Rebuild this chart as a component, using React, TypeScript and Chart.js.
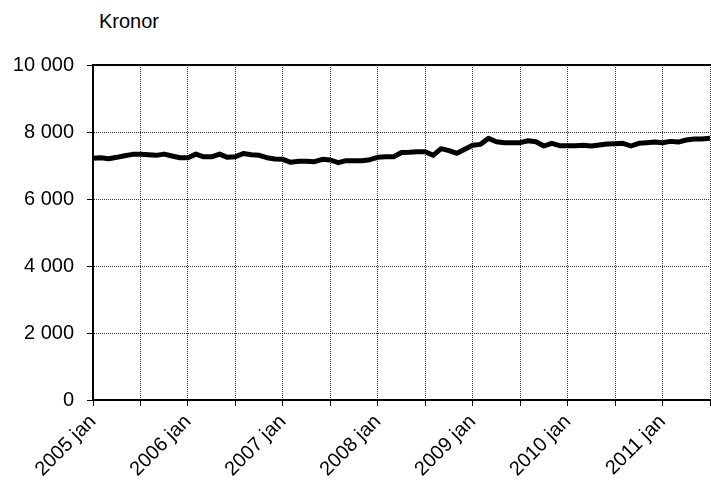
import React, { useEffect, useRef } from "react";
import { Chart, registerables } from "chart.js";

Chart.register(...registerables);

const unitLabel = "Kronor";
const years = [2005, 2006, 2007, 2008, 2009, 2010, 2011];
const monthNames = ["jan", "feb", "mar", "apr", "maj", "jun", "jul", "aug", "sep", "okt", "nov", "dec"];
const values = [
  7214, 7233, 7204, 7244, 7293, 7333, 7333, 7323, 7303, 7340, 7283, 7233,
  7233, 7340, 7260, 7260, 7340, 7244, 7260, 7360, 7323, 7303, 7233, 7194,
  7184, 7094, 7124, 7124, 7114, 7184, 7164, 7084, 7144, 7144, 7144, 7174,
  7244, 7263, 7263, 7390, 7393, 7413, 7413, 7303, 7502, 7442, 7363, 7482,
  7602, 7631, 7810, 7711, 7681, 7681, 7681, 7740, 7711, 7582, 7661, 7592,
  7592, 7592, 7602, 7582, 7612, 7641, 7651, 7661, 7582, 7661, 7681, 7700,
  7681, 7720, 7700, 7760, 7790, 7790, 7810,
];
const yMin = 0;
const yMax = 10000;
const yStep = 2000;

const labels = values.map((_, i) => `${years[Math.floor(i / 12)]} ${monthNames[i % 12]}`);
const FONT = "'Liberation Sans', Arial, sans-serif";

const fmt = (v: number) => String(v).replace(/\B(?=(\d{3})+(?!\d))/g, " ");

export default function App() {
  const ref = useRef<HTMLCanvasElement | null>(null);
  useEffect(() => {
    if (!ref.current) return;
    const chart = new Chart(ref.current, {
      type: "line",
      data: {
        labels,
        datasets: [
          {
            data: values,
            borderColor: "#000",
            borderWidth: 5,
            pointRadius: 0,
            tension: 0,
            fill: false,
            borderJoinStyle: "round",
            borderCapStyle: "butt",
            xAxisID: "x",
            yAxisID: "y",
          },
        ],
      },
      options: {
        animation: false,
        responsive: true,
        maintainAspectRatio: false,
        layout: { padding: { top: 65, right: 1, left: 0, bottom: 0 } },
        plugins: { legend: { display: false }, tooltip: { enabled: false }, title: { display: false } },
        scales: {
          x: {
            type: "category",
            position: "bottom",
            offset: false,
            grid: {
              color: (c: any) => (c.index % 6 === 0 ? "#333" : "rgba(0,0,0,0)"),
              tickColor: (c: any) => (c.index % 6 === 0 ? "#000" : "rgba(0,0,0,0)"),
              tickLength: 6,
              lineWidth: 1,
            },
            border: { display: true, color: "#000", width: 2, dash: [1, 1] },
            ticks: {
              autoSkip: false,
              maxRotation: 45,
              minRotation: 45,
              padding: 4,
              color: "#000",
              font: { family: FONT, size: 20 },
              callback: (_v: any, i: number) => (i % 12 === 0 ? labels[i] : ""),
            },
            afterFit: (s: any) => {
              s.height = 86;
              s.paddingLeft = 0;
              s.paddingRight = 0;
            },
          },
          xTop: {
            type: "category",
            position: "top",
            labels,
            offset: false,
            grid: { display: false, drawTicks: false },
            ticks: { display: false },
            border: { display: true, color: "#000", width: 2 },
            afterFit: (s: any) => {
              s.height = 0;
              s.paddingLeft = 0;
              s.paddingRight = 0;
            },
          },
          y: {
            min: yMin,
            max: yMax,
            grid: { color: "#333", tickColor: "#000", tickLength: 6, lineWidth: 1 },
            border: { display: true, color: "#000", width: 2, dash: [1, 1] },
            ticks: {
              stepSize: yStep,
              padding: 13,
              color: "#000",
              font: { family: FONT, size: 20 },
              callback: (v: any) => fmt(Number(v)),
            },
            afterFit: (s: any) => {
              s.width = 93;
            },
          },
        },
      },
    } as any);
    return () => chart.destroy();
  }, []);

  return (
    <div style={{ position: "fixed", left: 0, top: 0, width: 711, height: 486, background: "#fff" }}>
      <div
        style={{
          position: "absolute",
          left: 99,
          top: 10,
          fontFamily: FONT,
          fontSize: 20,
          color: "#000",
          lineHeight: "23px",
        }}
      >
        {unitLabel}
      </div>
      <canvas ref={ref} style={{ position: "absolute", left: 0, top: 0, width: 711, height: 486 }} />
    </div>
  );
}
